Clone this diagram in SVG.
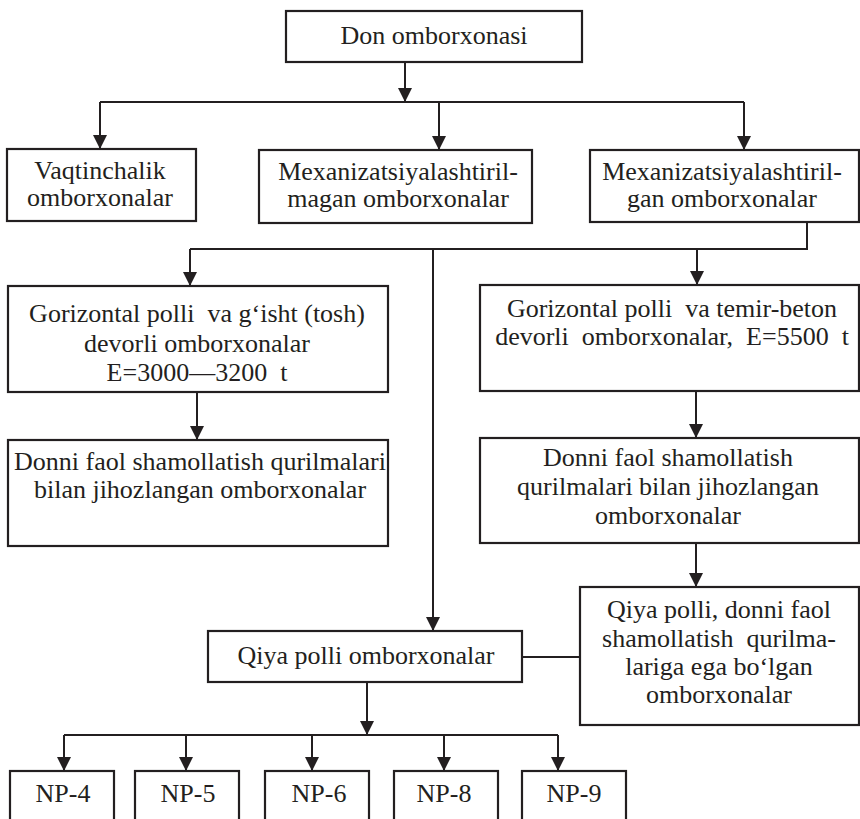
<svg xmlns="http://www.w3.org/2000/svg" width="860" height="819" viewBox="0 0 860 819">
<defs>
<marker id="ah" viewBox="0 0 14 14" markerWidth="14" markerHeight="14" refX="14" refY="7" orient="auto" markerUnits="userSpaceOnUse">
<path d="M0,0 L14,7 L0,14 z" fill="#231f20"/>
</marker>
</defs>
<style>
rect{fill:#fff;stroke:#231f20;stroke-width:2.2}
text{font-family:"Liberation Serif","Times New Roman",serif;font-size:26px;fill:#231f20;text-anchor:middle;white-space:pre}
.c line,.c polyline{stroke:#231f20;stroke-width:2;fill:none}
.a{marker-end:url(#ah)}
</style>
<rect x="0" y="0" width="860" height="819" style="fill:#fff;stroke:none"/>
<g class="c" id="connectors">
<line class="a" x1="405" y1="62" x2="405" y2="102"/>
<line x1="100" y1="102" x2="744" y2="102"/>
<line class="a" x1="100" y1="102" x2="100" y2="149"/>
<line class="a" x1="439" y1="102" x2="439" y2="150"/>
<line class="a" x1="744" y1="102" x2="744" y2="150"/>
<polyline points="807,222 807,249 190,249"/>
<line class="a" x1="190" y1="249" x2="190" y2="286"/>
<line class="a" x1="697" y1="249" x2="697" y2="285"/>
<line class="a" x1="433" y1="249" x2="433" y2="631"/>
<line class="a" x1="197" y1="392" x2="197" y2="440"/>
<line class="a" x1="696" y1="391" x2="696" y2="438"/>
<line class="a" x1="696" y1="543" x2="696" y2="587"/>
<line x1="522" y1="657" x2="580" y2="657"/>
<line class="a" x1="367" y1="682" x2="367" y2="735"/>
<line x1="64" y1="735" x2="558" y2="735"/>
<line class="a" x1="64" y1="735" x2="64" y2="771"/>
<line class="a" x1="186" y1="735" x2="186" y2="771"/>
<line class="a" x1="312" y1="735" x2="312" y2="771"/>
<line class="a" x1="444" y1="735" x2="444" y2="771"/>
<line class="a" x1="558" y1="735" x2="558" y2="771"/>
</g>
<g id="n_root"><rect x="286" y="11" width="296" height="51"/><text x="434" y="44">Don omborxonasi</text></g>
<g id="n_vaqt"><rect x="7" y="149" width="189" height="72"/><text x="100" y="179">Vaqtinchalik</text><text x="100" y="206">omborxonalar</text></g>
<g id="n_mexmagan"><rect x="259" y="150" width="273" height="73"/><text x="398" y="180">Mexanizatsiyalashtiril-</text><text x="398" y="207">magan omborxonalar</text></g>
<g id="n_mexgan"><rect x="590" y="150" width="269" height="72"/><text x="722" y="180">Mexanizatsiyalashtiril-</text><text x="722" y="207">gan omborxonalar</text></g>
<g id="n_gor1"><rect x="8" y="286" width="380" height="106"/><text x="197" y="322">Gorizontal polli  va g‘isht (tosh)</text><text x="197" y="352">devorli omborxonalar</text><text x="197" y="381">E=3000—3200  t</text></g>
<g id="n_gor2"><rect x="480" y="285" width="379" height="106"/><text x="672" y="317">Gorizontal polli  va temir-beton</text><text x="672" y="345">devorli  omborxonalar,  E=5500  t</text></g>
<g id="n_donni1"><rect x="8" y="440" width="380" height="106"/><text x="200" y="470">Donni faol shamollatish qurilmalari</text><text x="200" y="498">bilan jihozlangan omborxonalar</text></g>
<g id="n_donni2"><rect x="480" y="438" width="379" height="105"/><text x="668" y="466">Donni faol shamollatish</text><text x="668" y="495">qurilmalari bilan jihozlangan</text><text x="668" y="524">omborxonalar</text></g>
<g id="n_qiya2"><rect x="580" y="587" width="279" height="138"/><text x="719" y="618">Qiya polli, donni faol</text><text x="719" y="647">shamollatish  qurilma-</text><text x="719" y="675">lariga ega bo‘lgan</text><text x="719" y="703">omborxonalar</text></g>
<g id="n_qiya"><rect x="208" y="631" width="314" height="51"/><text x="366" y="664">Qiya polli omborxonalar</text></g>
<g id="n_np4"><rect x="10" y="771" width="104" height="60"/><text x="63" y="802">NP-4</text></g>
<g id="n_np5"><rect x="135" y="771" width="104" height="60"/><text x="188" y="802">NP-5</text></g>
<g id="n_np6"><rect x="265" y="771" width="104" height="60"/><text x="319" y="802">NP-6</text></g>
<g id="n_np8"><rect x="394" y="771" width="104" height="60"/><text x="444" y="802">NP-8</text></g>
<g id="n_np9"><rect x="522" y="771" width="104" height="60"/><text x="574" y="802">NP-9</text></g>
</svg>
